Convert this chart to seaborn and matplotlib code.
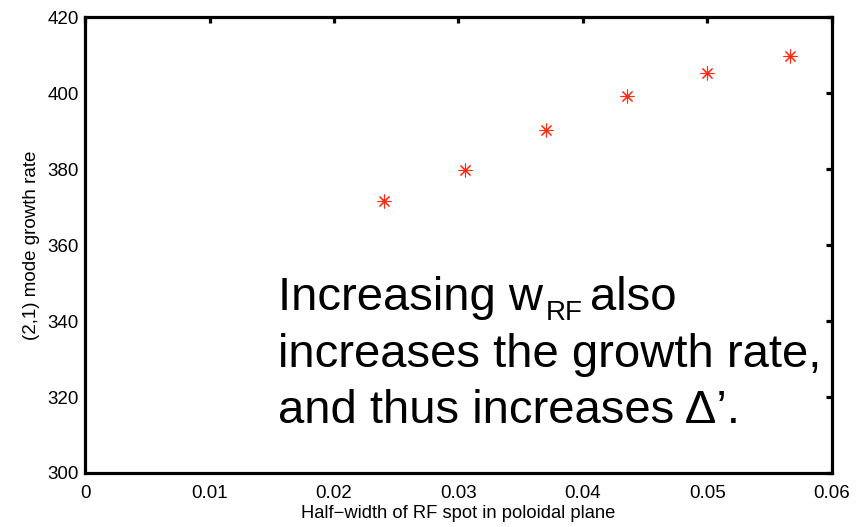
import matplotlib
matplotlib.use("Agg")
import matplotlib.pyplot as plt
import seaborn as sns
import pandas as pd

# Half-width of the RF spot vs. (2,1) mode growth rate
half_width = [0.0240, 0.0305, 0.0370, 0.0435, 0.0500, 0.0566]
growth_rate = [371.6, 379.8, 390.4, 399.2, 405.3, 409.9]

x_ticks = [0, 0.01, 0.02, 0.03, 0.04, 0.05, 0.06]
x_tick_labels = ["0", "0.01", "0.02", "0.03", "0.04", "0.05", "0.06"]
y_ticks = [300, 320, 340, 360, 380, 400, 420]

first_line_parts = ["Increasing w", "RF", "also"]
other_lines = [
    "increases the growth rate,",
    "and thus increases \u0394\u2019.",
]

sns.set_theme(style="white")
plt.rcParams["font.family"] = ["Liberation Sans", "DejaVu Sans"]

df = pd.DataFrame({"w": half_width, "gamma": growth_rate})

fig = plt.figure(figsize=(8.57, 5.27), dpi=100)
ax = fig.add_axes([0.0992, 0.1025, 0.8716, 0.8643])

sns.scatterplot(data=df, x="w", y="gamma", ax=ax, marker=(8, 2, 0),
                color="#ff2a10", s=88, linewidth=0.8, legend=False)

ax.set_xlim(0, 0.06)
ax.set_ylim(300, 420)
ax.set_xticks(x_ticks)
ax.set_xticklabels(x_tick_labels)
ax.set_yticks(y_ticks)

for side in ["left", "right", "top", "bottom"]:
    ax.spines[side].set_visible(True)
    ax.spines[side].set_color("black")
    ax.spines[side].set_linewidth(2.3)

ax.tick_params(axis="both", which="both", direction="in", length=4.6, width=2.3,
               top=True, right=True, labelsize=13.5, colors="black")
ax.tick_params(axis="x", pad=9)
ax.tick_params(axis="y", pad=4.5)

ax.set_xlabel("Half\u2212width of RF spot in poloidal plane", fontsize=13.2,
              labelpad=2, color="black")
ax.set_ylabel("(2,1) mode growth rate", fontsize=13.5, labelpad=5, color="black")

# Annotation: first line built from pieces so the subscript sits low and small
x0 = 0.258
baselines = [0.358, 0.233, 0.110]
big, small = 34, 20

t_main = ax.text(x0, baselines[0], first_line_parts[0], transform=ax.transAxes,
                 fontsize=big, va="baseline", ha="left", color="black")
fig.canvas.draw()
renderer = fig.canvas.get_renderer()
to_axes = ax.transAxes.inverted()

ext = t_main.get_window_extent(renderer)
base_px = ax.transAxes.transform((x0, baselines[0]))[1]
sub_x, sub_y = to_axes.transform((ext.x1 + 3, base_px - 10))
t_sub = ax.text(sub_x, sub_y, first_line_parts[1], transform=ax.transAxes,
                fontsize=small, va="baseline", ha="left", color="black")
fig.canvas.draw()
ext_sub = t_sub.get_window_extent(renderer)
also_x, _ = to_axes.transform((ext_sub.x1 + 7, base_px))
ax.text(also_x, baselines[0], first_line_parts[2], transform=ax.transAxes,
        fontsize=big, va="baseline", ha="left", color="black")

for line, yb in zip(other_lines, baselines[1:]):
    ax.text(x0, yb, line, transform=ax.transAxes, fontsize=big,
            va="baseline", ha="left", color="black")

fig.savefig("out.png", dpi=100)
